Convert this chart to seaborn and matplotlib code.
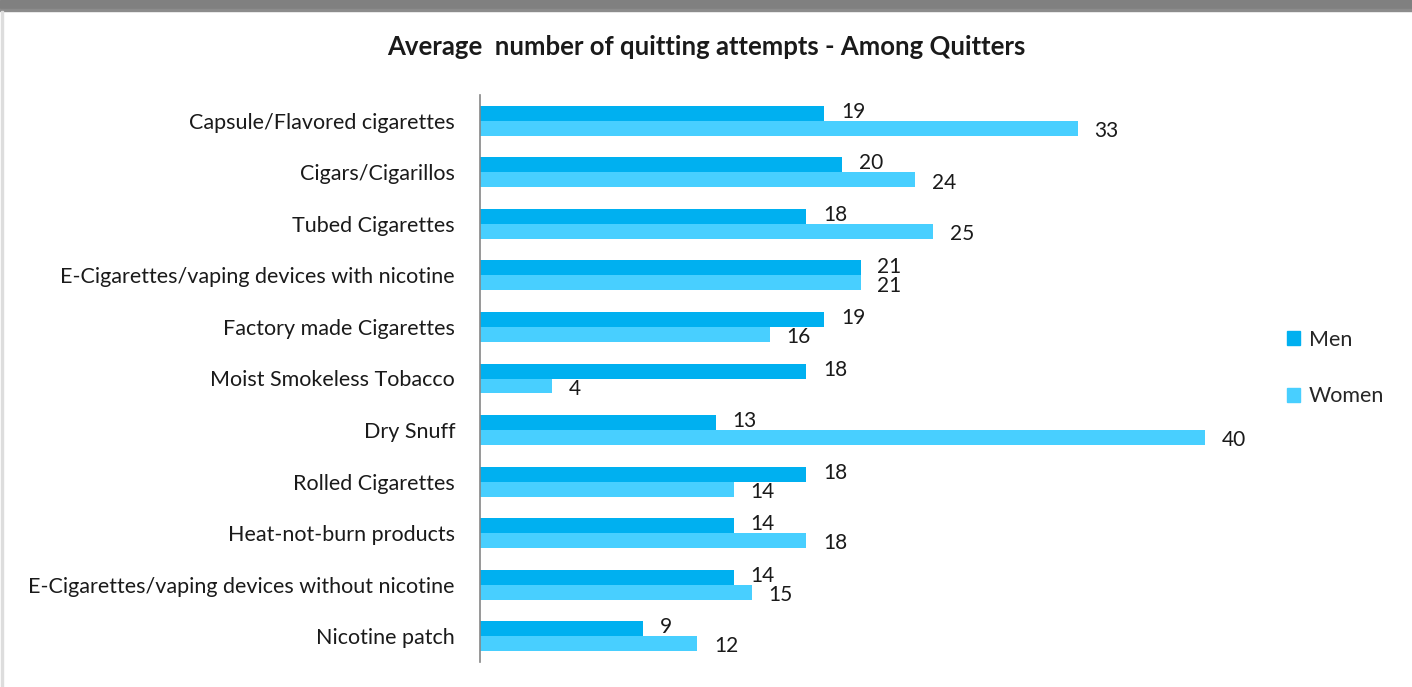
import matplotlib
matplotlib.use("Agg")
import matplotlib.pyplot as plt
from matplotlib.patches import Rectangle
import seaborn as sns
import pandas as pd

categories = [
    "Capsule/Flavored cigarettes",
    "Cigars/Cigarillos",
    "Tubed Cigarettes",
    "E-Cigarettes/vaping devices with nicotine",
    "Factory made Cigarettes",
    "Moist Smokeless Tobacco",
    "Dry Snuff",
    "Rolled Cigarettes",
    "Heat-not-burn products",
    "E-Cigarettes/vaping devices without nicotine",
    "Nicotine patch",
]
men = [19, 20, 18, 21, 19, 18, 13, 18, 14, 14, 9]
women = [33, 24, 25, 21, 16, 4, 40, 14, 18, 15, 12]
series = ["Men", "Women"]
colors = {"Men": "#00B0F0", "Women": "#48CFFF"}

df = pd.DataFrame({
    "category": categories * 2,
    "value": men + women,
    "group": ["Men"] * len(categories) + ["Women"] * len(categories),
})

sns.set_theme(style="white")
plt.rcParams["font.family"] = ["Lato", "DejaVu Sans"]

fig = plt.figure(figsize=(14.12, 6.87), dpi=100)
ax = fig.add_axes([480 / 1412, 1 - 662 / 687, (1270 - 480) / 1412, (662 - 95) / 687])

sns.barplot(data=df, y="category", x="value", hue="group", order=categories,
            hue_order=series, palette=colors, orient="h", width=0.58,
            saturation=1, linewidth=0, ax=ax, legend=False)

ax.set_xlim(0, 43.6)
ax.set_ylim(len(categories) - 0.5, -0.5)
ax.set_xlabel("")
ax.set_ylabel("")
ax.set_xticks([])
for side in ["top", "right", "bottom"]:
    ax.spines[side].set_visible(False)
ax.spines["left"].set_color("#868686")
ax.spines["left"].set_linewidth(1.2)
ax.tick_params(axis="y", length=0, pad=18, labelsize=15.5, labelcolor="#1a1a1a")

# value labels at the end of each bar (men nudged up, women down a touch)
for container, dy in zip(ax.containers, (1, -2)):
    for bar in container:
        w = bar.get_width()
        y = bar.get_y() + bar.get_height() / 2
        ax.annotate(f"{w:.0f}", (w, y), xytext=(12, dy), textcoords="offset points",
                    ha="left", va="center", fontsize=15, color="#1a1a1a")

# legend with square markers
handles = [Rectangle((0, 0), 1, 1, color=colors[s]) for s in series]
fig.legend(handles, series, loc="center left", bbox_to_anchor=(1268 / 1412, 1 - 368 / 687),
           frameon=False, fontsize=15.5, handlelength=0.6, handleheight=0.6,
           labelspacing=1.7, handletextpad=0.4)

fig.text(0.5, 1 - 47 / 687, "Average  number of quitting attempts - Among Quitters",
         ha="center", va="center", fontsize=18.5, fontweight="bold", color="#1a1a1a")

# frame decorations
fig.patches.append(Rectangle((0, 1 - 8 / 687), 1, 8 / 687, transform=fig.transFigure,
                             color="#808080", zorder=0))
fig.patches.append(Rectangle((0, 1 - 11 / 687), 1, 2 / 687, transform=fig.transFigure,
                             color="#8c8c8c", zorder=0))
fig.patches.append(Rectangle((1 / 1412, 0), 2 / 1412, 1 - 11 / 687, transform=fig.transFigure,
                             color="#dddddd", zorder=0))

fig.savefig("out.png", dpi=100)
